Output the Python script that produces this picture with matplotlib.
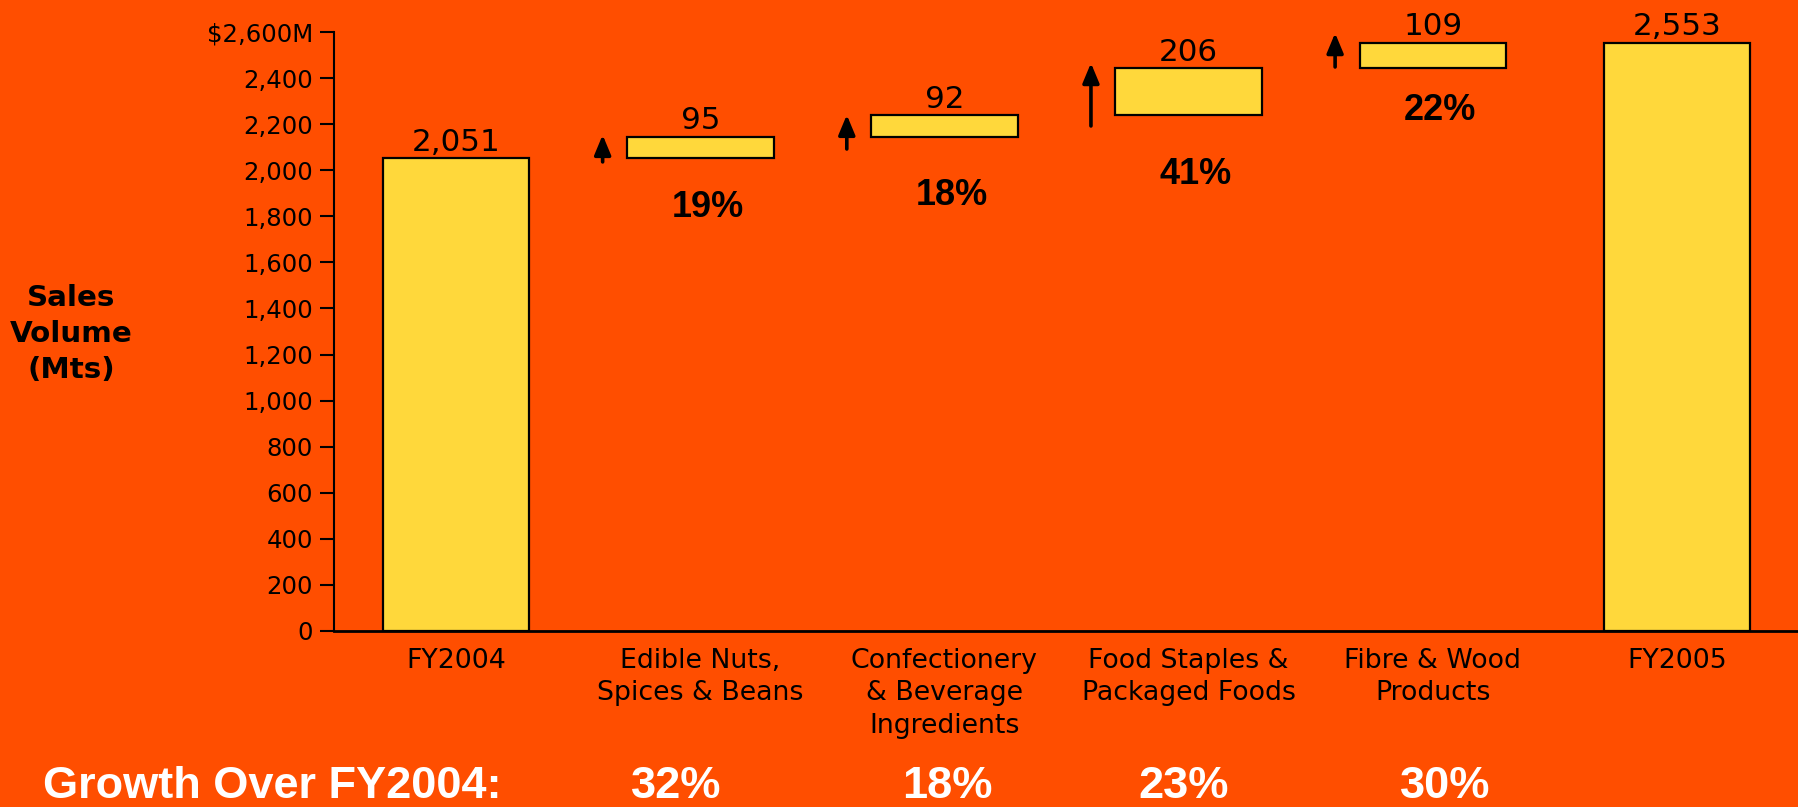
import matplotlib
matplotlib.use("Agg")
import matplotlib.pyplot as plt

# sales volume bridge FY2004 -> FY2005 (Mts)
categories = ["FY2004", "Edible Nuts,\nSpices & Beans", "Confectionery\n& Beverage\nIngredients",
              "Food Staples &\nPackaged Foods", "Fibre & Wood\nProducts", "FY2005"]
fy2004 = 2051
increments = [95, 92, 206, 109]
fy2005 = 2553
growth_over_fy2004 = [32, 18, 23, 30]
y_ticks = [0, 200, 400, 600, 800, 1000, 1200, 1400, 1600, 1800, 2000, 2200, 2400, 2600]

BG = "#FF4E00"
BAR = "#FFD83B"

# floating segments for the waterfall
bottoms = [0]
heights = [fy2004]
running = fy2004
for d in increments:
    bottoms.append(running)
    heights.append(d)
    running += d
bottoms.append(0)
heights.append(fy2005)
total_inc = sum(increments)

fig = plt.figure(figsize=(17.99, 8.07), dpi=100, facecolor=BG)
ax = fig.add_axes([0.1857, 0.2181, 0.8143, 0.7423])
ax.set_facecolor(BG)

x = list(range(len(categories)))
ax.bar(x, heights, bottom=bottoms, width=0.6, color=BAR, edgecolor="black", linewidth=1.6, zorder=3)

ax.set_xlim(-0.5, 5.5)
ax.set_ylim(0, 2600)
ax.set_yticks(y_ticks)
ax.set_yticklabels([f"{v:,}" for v in y_ticks[:-1]] + [f"${y_ticks[-1]:,}M"])
ax.set_xticks(x)
ax.set_xticklabels(categories, fontsize=19.3, linespacing=1.33)
ax.tick_params(axis="x", length=0, pad=12)
ax.tick_params(axis="y", length=10, width=1.5, pad=5, labelsize=17.6)
for s in ["top", "right"]:
    ax.spines[s].set_visible(False)
ax.spines["left"].set_linewidth(1.5)
ax.spines["bottom"].set_linewidth(2)

# value labels on top of bars
for xi, b, h in zip(x, bottoms, heights):
    ax.annotate(f"{h:,}", (xi, b + h), xytext=(0, 1), textcoords="offset points",
                ha="center", va="bottom", fontsize=22.3)

# share of total increase under each floating bar, plus arrows
share_gap = [215, 254, 255, 183]
arrow_tail = [2036, 2092, 2192, 2448]
arrow_head = [2153, 2240, 2465, 2595]
for i, d in enumerate(increments):
    xi = i + 1
    share = round(d / total_inc * 100)
    ax.text(xi + 0.03, bottoms[xi] - share_gap[i], f"{share}%", ha="center", va="center",
            fontsize=26, fontweight="bold", family="Liberation Sans")
    ax.annotate("", xy=(xi - 0.4, arrow_head[i]), xytext=(xi - 0.4, arrow_tail[i]),
                arrowprops=dict(arrowstyle="-|>,head_length=1.2,head_width=0.5",
                                lw=2.6, color="black", shrinkA=0, shrinkB=0,
                                mutation_scale=10))

fig.text(71 / 1799, 1 - 334 / 807, "Sales\nVolume\n(Mts)", ha="center", va="center",
         fontsize=21.2, fontweight="bold", linespacing=1.35)

# growth row along the bottom
fig.text(43 / 1799, 0.0, "Growth Over FY2004:", ha="left", va="bottom",
         fontsize=32.5, fontweight="bold", color="white", family="Liberation Sans")
growth_x = [0.9, 2.01, 2.98, 4.05]
for gx, g in zip(growth_x, growth_over_fy2004):
    fx = ax.transData.transform((gx, 0))[0] / fig.bbox.width
    fig.text(fx, 0.0, f"{g}%", ha="center", va="bottom",
             fontsize=32.5, fontweight="bold", color="white", family="Liberation Sans")

fig.savefig("out.png", dpi=100, facecolor=BG)
